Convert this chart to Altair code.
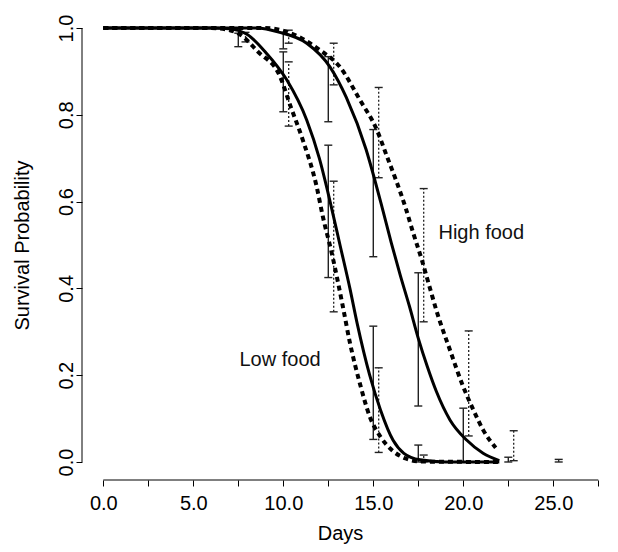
import altair as alt
import pandas as pd

# ---------------- data ----------------
# fitted survival curves (day, survival probability)
low_solid_day = [0, 6.0, 7.0, 8.0, 9.0, 10.2, 11.3, 12.0, 12.6, 13.15, 13.7, 14.1, 14.8, 15.4, 16.1, 16.7, 17.6, 19.0, 22.0]
low_solid_val = [1.0, 1.0, 0.998, 0.985, 0.945, 0.88, 0.788, 0.70, 0.60, 0.50, 0.40, 0.32, 0.20, 0.12, 0.05, 0.02, 0.005, 0.0, 0.0]

low_dot_day = [0, 6.0, 6.8, 7.6, 8.6, 9.8, 10.4, 11.1, 11.85, 12.2, 12.7, 13.3, 13.7, 14.26, 14.8, 15.4, 16.1, 16.8, 17.6, 22.0]
low_dot_val = [1.0, 1.0, 0.997, 0.985, 0.945, 0.89, 0.82, 0.74, 0.635, 0.565, 0.48, 0.36, 0.275, 0.18, 0.105, 0.058, 0.025, 0.008, 0.001, 0.0]

high_solid_day = [0, 8.5, 9.8, 11.3, 12.6, 13.5, 14.6, 15.05, 15.5, 16.0, 16.5, 17.0, 17.5, 18.0, 18.5, 19.26, 20.2, 21.1, 22.0]
high_solid_val = [1.0, 1.0, 0.99, 0.965, 0.91, 0.84, 0.72, 0.655, 0.585, 0.505, 0.43, 0.36, 0.285, 0.22, 0.163, 0.097, 0.05, 0.02, 0.003]

high_dot_day = [0, 9.0, 10.4, 12.0, 13.15, 14.26, 15.2, 15.75, 16.3, 16.8, 17.2, 17.7, 18.15, 18.5, 19.26, 20.0, 20.56, 21.1, 21.8]
high_dot_val = [1.0, 1.0, 0.988, 0.95, 0.91, 0.834, 0.765, 0.705, 0.645, 0.585, 0.53, 0.465, 0.40, 0.35, 0.258, 0.173, 0.12, 0.074, 0.033]

# error bars, solid
eb_solid_day = [7.5, 10.0, 10.0, 12.5, 12.5, 15.0, 15.0, 17.5, 17.5, 20.0, 22.5]
eb_solid_lo = [0.957, 0.952, 0.807, 0.784, 0.425, 0.473, 0.052, 0.129, 0.0, 0.0, 0.0]
eb_solid_hi = [0.988, 0.99, 0.945, 0.934, 0.73, 0.766, 0.313, 0.436, 0.039, 0.124, 0.011]

# error bars, dotted
eb_dot_day = [7.9, 10.3, 10.3, 12.8, 12.8, 15.3, 15.3, 17.8, 17.8, 20.3, 22.8, 25.3]
eb_dot_lo = [0.968, 0.965, 0.774, 0.869, 0.346, 0.655, 0.022, 0.323, 0.0, 0.06, 0.003, 0.0]
eb_dot_hi = [0.99, 0.995, 0.922, 0.965, 0.647, 0.863, 0.217, 0.63, 0.016, 0.302, 0.072, 0.006]

# annotations
label_text = ["High food", "Low food"]
label_day = [21.0, 9.82]
label_val = [0.527, 0.235]

x_ticks = [0.0, 2.5, 5.0, 7.5, 10.0, 12.5, 15.0, 17.5, 20.0, 22.5, 25.0, 27.5]
y_ticks = [0.0, 0.2, 0.4, 0.6, 0.8, 1.0]

# ---------------- tables ----------------
def curve(name, d, v):
    return pd.DataFrame({"day": d, "val": v, "curve": name})

solid_df = pd.concat([curve("low", low_solid_day, low_solid_val),
                      curve("high", high_solid_day, high_solid_val)])
dot_df = pd.concat([curve("low", low_dot_day, low_dot_val),
                    curve("high", high_dot_day, high_dot_val)])
ebs = pd.DataFrame({"day": eb_solid_day, "lo": eb_solid_lo, "hi": eb_solid_hi})
ebd = pd.DataFrame({"day": eb_dot_day, "lo": eb_dot_lo, "hi": eb_dot_hi})
labels = pd.DataFrame({"day": label_day, "val": label_val, "text": label_text})
xline = pd.DataFrame({"d0": [x_ticks[0]], "d1": [x_ticks[-1]]})
yline = pd.DataFrame({"v0": [y_ticks[0]], "v1": [y_ticks[-1]]})

W, H = 528, 470
FONT = "Liberation Sans"
xs = alt.Scale(domain=[-1.183, 28.15], nice=False, zero=False)
ys = alt.Scale(domain=[-0.0415, 1.0415], nice=False, zero=False)

xaxis = alt.Axis(values=x_ticks, domain=False, grid=False, tickSize=6, tickColor="black",
                 tickWidth=1,
                 labelExpr="datum.value % 5 == 0 ? format(datum.value, '.1f') : ''",
                 labelFont=FONT, labelFontSize=20, labelColor="black",
                 labelBaseline="alphabetic", labelPadding=23, labelFlush=False,
                 labelOverlap=False, title="Days", titleFont=FONT, titleFontSize=20,
                 titleFontWeight="normal", titleColor="black", titleX=258, titleY=59,
                 titleAlign="center", titleBaseline="alphabetic")
yaxis = alt.Axis(values=y_ticks, domain=False, grid=False, tickSize=6, tickColor="black",
                 tickWidth=1, format=".1f", labelAngle=270, labelAlign="center",
                 labelBaseline="alphabetic", labelPadding=4, labelFont=FONT,
                 labelFontSize=20, labelColor="black", labelFlush=False, labelOverlap=False,
                 title="Survival Probability", titleFont=FONT, titleFontSize=20,
                 titleFontWeight="normal", titleColor="black", titleAngle=270,
                 titleX=-54, titleY=235, titleAlign="center", titleBaseline="alphabetic")


def X(f):
    return alt.X(f, type="quantitative", scale=xs, axis=xaxis)


def Y(f):
    return alt.Y(f, type="quantitative", scale=ys, axis=yaxis)


y_axis_line = alt.Chart(yline).mark_rule(color="black", strokeWidth=1).encode(
    x=alt.value(0), y=Y("v0"), y2="v1")
x_axis_line = alt.Chart(xline).mark_rule(color="black", strokeWidth=1).encode(
    x=X("d0"), x2="d1", y=alt.value(H))

solid_lines = alt.Chart(solid_df).mark_line(
    color="black", strokeWidth=3, interpolate="monotone").encode(
    x=X("day"), y=Y("val"), detail="curve:N")
dot_lines = alt.Chart(dot_df).mark_line(
    color="black", strokeWidth=4, strokeDash=[5, 4], interpolate="monotone").encode(
    x=X("day"), y=Y("val"), detail="curve:N")

EBC = "#222222"
eb_s = alt.Chart(ebs).mark_rule(color=EBC, strokeWidth=1.4).encode(x=X("day"), y=Y("lo"), y2="hi")
eb_s_lo = alt.Chart(ebs).mark_rule(color=EBC, strokeWidth=1.4, xOffset=-4, x2Offset=4).encode(
    x=X("day"), x2="day", y=Y("lo"))
eb_s_hi = alt.Chart(ebs).mark_rule(color=EBC, strokeWidth=1.4, xOffset=-4, x2Offset=4).encode(
    x=X("day"), x2="day", y=Y("hi"))
eb_d = alt.Chart(ebd).mark_rule(color=EBC, strokeWidth=1.3, strokeDash=[2, 2]).encode(
    x=X("day"), y=Y("lo"), y2="hi")
eb_d_lo = alt.Chart(ebd).mark_rule(color=EBC, strokeWidth=1.4, xOffset=-4, x2Offset=4).encode(
    x=X("day"), x2="day", y=Y("lo"))
eb_d_hi = alt.Chart(ebd).mark_rule(color=EBC, strokeWidth=1.4, xOffset=-4, x2Offset=4).encode(
    x=X("day"), x2="day", y=Y("hi"))

text = alt.Chart(labels).mark_text(font=FONT, fontSize=20, color="#111111",
                                   align="center", baseline="middle").encode(
    x=X("day"), y=Y("val"), text="text:N")

chart = alt.layer(
    y_axis_line, x_axis_line, eb_s, eb_s_lo, eb_s_hi, eb_d, eb_d_lo, eb_d_hi,
    solid_lines, dot_lines, text
).properties(
    width=W, height=H,
    padding={"left": 74, "top": 2, "right": 0, "bottom": 64},
    autosize=alt.AutoSizeParams(type="none"),
    background="white",
).configure_view(stroke=None)

chart.save("out.html", embed_options={"renderer": "svg", "actions": False})
